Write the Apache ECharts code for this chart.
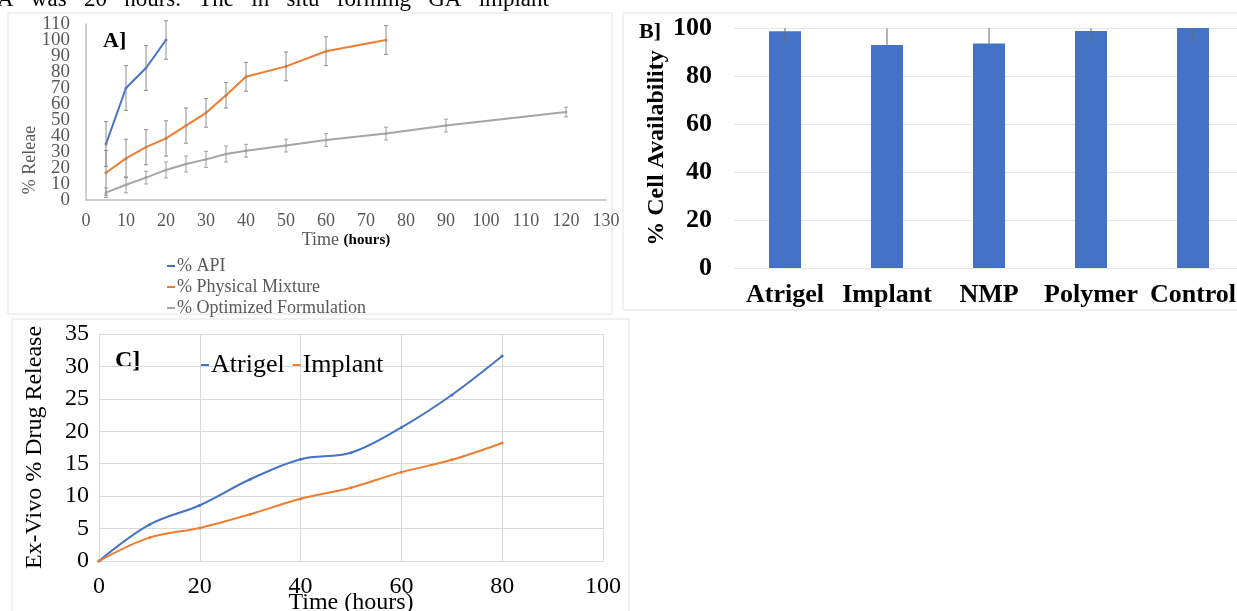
<!DOCTYPE html>
<html>
<head>
<meta charset="utf-8">
<title>Release and cell availability</title>
<script src="https://cdn.jsdelivr.net/npm/echarts/dist/echarts.min.js"></script>
<style>
  html, body { margin: 0; padding: 0; background: #fff; }
  #chart { width: 1237px; height: 611px; }
</style>
</head>
<body>
<div id="chart"></div>
<script>
// ---- panel A : in vitro release ----
var apiTime = [5, 10, 15, 20];
var apiRelease = [35, 70, 82.5, 100];
var apiErr = [14, 14, 14, 12];

var mixTime = [5, 10, 15, 20, 25, 30, 35, 40, 50, 60, 75];
var mixRelease = [17, 26, 33, 38.5, 46.5, 54.5, 65.5, 77, 83.5, 93, 100];
var mixErr = [14, 12, 11, 11, 11, 9, 8, 9, 9, 9, 9];

var optTime = [5, 10, 15, 20, 25, 30, 35, 40, 50, 60, 75, 90, 120];
var optRelease = [4.6, 9.5, 14, 18.8, 22.5, 25.4, 28.7, 30.8, 34, 37.5, 41.5, 46.5, 55];
var optErr = [3, 5, 4, 5, 5, 5, 5, 4, 4, 4, 4, 4, 3];

// labels next to the ends of A's y axis, drawn by a twin axis
var nearEndTicksA = [10, 100];

// ---- panel B : cell availability ----
var groups = ['Atrigel', 'Implant', 'NMP', 'Polymer', 'Control'];
var cellAvail = [98.6, 92.9, 93.5, 98.8, 100];
var cellErrUp = [5, 7, 6.5, 5, 6.5];
var cellErrDown = [5, 0, 0, 5, 6.4];

// ---- panel C : ex-vivo release ----
var exTime = [0, 10, 20, 30, 40, 50, 60, 70, 80];
var atrigelRelease = [0, 5.6, 8.6, 12.6, 15.7, 16.7, 20.6, 25.6, 31.6];
var implantRelease = [0, 3.6, 5.1, 7.2, 9.6, 11.3, 13.7, 15.6, 18.2];

var SERIF = '"Liberation Serif", "DejaVu Serif", serif';
var BLUE = '#4472C4', ORANGE = '#ED7D31', GRAY = '#A5A5A5';

function pairs(xs, ys) {
  return xs.map(function (x, i) { return [x, ys[i]]; });
}
// [x, y, plus, minus]
function errRows(xs, ys, up, down) {
  return xs.map(function (x, i) { return [x, ys[i], up[i], down ? down[i] : up[i]]; });
}

// vertical error bar with small caps
function errRender(color, cap) {
  return function (params, api) {
    var x = api.value(0), y = api.value(1);
    var top = api.coord([x, y + api.value(2)]);
    var bot = api.coord([x, y - api.value(3)]);
    var st = { stroke: color, lineWidth: 1 };
    return {
      type: 'group',
      children: [
        { type: 'line', shape: { x1: top[0], y1: top[1], x2: bot[0], y2: bot[1] }, style: st },
        { type: 'line', shape: { x1: top[0] - cap, y1: top[1], x2: top[0] + cap, y2: top[1] }, style: st },
        { type: 'line', shape: { x1: bot[0] - cap, y1: bot[1], x2: bot[0] + cap, y2: bot[1] }, style: st }
      ]
    };
  };
}

function lineSeries(name, data, color, xi, yi, smooth) {
  return {
    type: 'line', name: name, xAxisIndex: xi, yAxisIndex: yi,
    data: data, smooth: smooth ? 0.35 : false,
    color: color, symbol: 'circle', symbolSize: 3,
    lineStyle: { width: 2 }, itemStyle: { color: color },
    z: 3, animation: false
  };
}

function errSeries(data, color, xi, yi, cap, clip) {
  return {
    type: 'custom', xAxisIndex: xi, yAxisIndex: yi,
    renderItem: errRender(color, cap), data: data,
    clip: !!clip, silent: true, z: 4, animation: false
  };
}

var labelA = { fontFamily: SERIF, fontSize: 19, color: '#595959', margin: 16 };

var chart = echarts.init(document.getElementById('chart'));

var option = {
  animation: false,
  textStyle: { fontFamily: SERIF },
  graphic: [
    // page text cut at the top
    { type: 'text', left: -3, top: -12,
      style: { text: 'A   was   20   hours.   The   in   situ   forming   GA   implant',
               font: '23px ' + SERIF, fill: '#000' } },
    // panel frames
    { type: 'rect', shape: { x: 8, y: 13, width: 604, height: 301 },
      style: { fill: 'none', stroke: '#e3e3e3', lineWidth: 1 } },
    { type: 'rect', shape: { x: 623, y: 13, width: 620, height: 297 },
      style: { fill: 'none', stroke: '#e3e3e3', lineWidth: 1 } },
    { type: 'rect', shape: { x: 12, y: 319, width: 617, height: 300 },
      style: { fill: 'none', stroke: '#e3e3e3', lineWidth: 1 } },
    // panel tags
    { type: 'text', x: 103, y: 30,
      style: { text: 'A]', font: 'bold 22px ' + SERIF, fill: '#000' } },
    { type: 'text', x: 639, y: 21,
      style: { text: 'B]', font: 'bold 22px ' + SERIF, fill: '#000' } },
    { type: 'text', x: 115, y: 349,
      style: { text: 'C]', font: 'bold 24px ' + SERIF, fill: '#000' } },
    // y title of A sits low in the original
    { type: 'text', x: 30, y: 160, rotation: Math.PI / 2,
      style: { text: '% Releae', font: '18px ' + SERIF, fill: '#595959',
               align: 'center', verticalAlign: 'middle' } }
  ],
  legend: [
    {
      data: ['% API', '% Physical Mixture', '% Optimized Formulation'],
      orient: 'vertical', left: 162, top: 252, itemGap: 3,
      itemWidth: 8, itemHeight: 2, icon: 'rect',
      textStyle: { fontFamily: SERIF, fontSize: 18, color: '#595959', padding: [0, 0, 0, -3] }
    },
    {
      data: ['Atrigel', 'Implant'],
      left: 196, top: 347, itemGap: 8,
      itemWidth: 8, itemHeight: 2, icon: 'rect',
      textStyle: { fontFamily: SERIF, fontSize: 26, color: '#000', padding: [0, 0, 0, -3] }
    }
  ],
  grid: [
    { left: 86, top: 24, width: 520, height: 176, outerBoundsMode: 'none' },
    { left: 734, top: 28, width: 510, height: 240, outerBoundsMode: 'none' },
    { left: 99, top: 334, width: 504, height: 227, outerBoundsMode: 'none' }
  ],
  xAxis: [
    {
      gridIndex: 0, type: 'value', min: 0, max: 130, interval: 10,
      axisLine: { lineStyle: { color: '#bfbfbf', width: 1.5 } },
      axisTick: { show: false }, splitLine: { show: false },
      axisLabel: { fontFamily: SERIF, fontSize: 18, color: '#595959', margin: 12,
                   showMinLabel: true, showMaxLabel: true },
      name: 'Time {b|(hours)}', nameLocation: 'middle', nameGap: 30,
      nameTextStyle: { fontFamily: SERIF, fontSize: 18, color: '#595959',
        rich: { b: { fontFamily: SERIF, fontSize: 15, fontWeight: 'bold', color: '#000' } } }
    },
    {
      gridIndex: 1, type: 'category', data: groups,
      axisLine: { show: false }, axisTick: { show: false },
      axisLabel: { fontFamily: SERIF, fontSize: 26, fontWeight: 'bold', color: '#000',
                   margin: 14, interval: 0, hideOverlap: false }
    },
    {
      gridIndex: 2, type: 'value', min: 0, max: 100, interval: 20,
      axisLine: { lineStyle: { color: '#d9d9d9' } },
      axisTick: { show: false },
      splitLine: { show: true, lineStyle: { color: '#d9d9d9' } },
      axisLabel: { fontFamily: SERIF, fontSize: 24, color: '#000', margin: 14 },
      name: 'Time (hours)', nameLocation: 'middle', nameGap: 30, nameMoveOverlap: false,
      nameTextStyle: { fontFamily: SERIF, fontSize: 24, color: '#000', verticalAlign: 'top' }
    }
  ],
  yAxis: [
    {
      // A: main axis, all labels but the two next to the ends
      gridIndex: 0, type: 'value', min: 0, max: 110, interval: 10,
      axisLine: { show: true, lineStyle: { color: '#bfbfbf', width: 1.5 } },
      axisTick: { show: false }, splitLine: { show: false },
      axisLabel: Object.assign({}, labelA, {
        showMinLabel: true, showMaxLabel: true,
        formatter: function (v) { return nearEndTicksA.indexOf(v) >= 0 ? '' : String(v); }
      })
    },
    {
      // A: twin axis carrying 10 and 100
      gridIndex: 0, type: 'value', min: 0, max: 110, interval: 10, position: 'left',
      axisLine: { show: false }, axisTick: { show: false }, splitLine: { show: false },
      axisLabel: Object.assign({}, labelA, {
        formatter: function (v) { return nearEndTicksA.indexOf(v) >= 0 ? String(v) : ''; }
      })
    },
    {
      gridIndex: 1, type: 'value', min: 0, max: 100, interval: 20,
      axisLine: { show: false }, axisTick: { show: false },
      splitLine: { lineStyle: { color: '#e6e6e6' } },
      axisLabel: { fontFamily: SERIF, fontSize: 26, fontWeight: 'bold', color: '#000', margin: 22 },
      name: '% Cell Availability', nameLocation: 'middle', nameGap: 62,
      nameTextStyle: { fontFamily: SERIF, fontSize: 24, fontWeight: 'bold', color: '#000' }
    },
    {
      gridIndex: 2, type: 'value', min: 0, max: 35, interval: 5,
      axisLine: { show: true, lineStyle: { color: '#d9d9d9' } },
      axisTick: { show: false },
      splitLine: { lineStyle: { color: '#d9d9d9' } },
      axisLabel: { fontFamily: SERIF, fontSize: 24, color: '#000', margin: 10 },
      name: 'Ex-Vivo % Drug Release', nameLocation: 'middle', nameGap: 52,
      nameTextStyle: { fontFamily: SERIF, fontSize: 24, color: '#000' }
    }
  ],
  series: [
    // A
    errSeries(errRows(apiTime, apiRelease, apiErr), '#8c8c8c', 0, 0, 2),
    errSeries(errRows(mixTime, mixRelease, mixErr), '#8c8c8c', 0, 0, 2),
    errSeries(errRows(optTime, optRelease, optErr), '#a0a0a0', 0, 0, 2),
    lineSeries('% API', pairs(apiTime, apiRelease), BLUE, 0, 0),
    lineSeries('% Physical Mixture', pairs(mixTime, mixRelease), ORANGE, 0, 0),
    lineSeries('% Optimized Formulation', pairs(optTime, optRelease), GRAY, 0, 0),
    // B
    {
      type: 'bar', xAxisIndex: 1, yAxisIndex: 2, data: cellAvail,
      barWidth: 32, itemStyle: { color: BLUE }, animation: false
    },
    errSeries(errRows(groups.map(function (g, i) { return i; }), cellAvail, cellErrUp, cellErrDown),
      '#6b6b6b', 1, 2, 0, true),
    // C
    lineSeries('Atrigel', pairs(exTime, atrigelRelease), BLUE, 2, 3, true),
    lineSeries('Implant', pairs(exTime, implantRelease), ORANGE, 2, 3, true)
  ]
};

chart.setOption(option);
</script>
</body>
</html>
